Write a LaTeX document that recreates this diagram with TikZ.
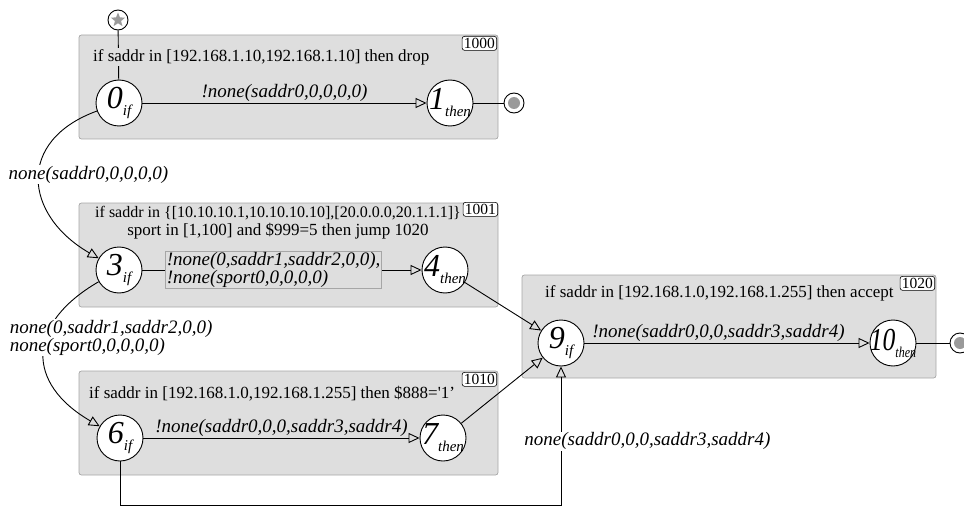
\documentclass[tikz,border=0pt]{standalone}
\usepackage{fontspec}
\setmainfont{Liberation Serif}
\usetikzlibrary{arrows.meta,shapes.geometric,backgrounds}

\newcommand{\stlabel}[2]{\makebox[32pt][c]{{\fontsize{32}{32}\selectfont\itshape #1}\raisebox{-7pt}{\fontsize{15}{15}\selectfont\itshape #2}}}

\begin{document}
\begin{tikzpicture}[x=1pt, y=1pt,
  state/.style={circle, draw, line width=0.9pt, fill=white, minimum size=46pt, inner sep=0pt},
  endstate/.style={circle, draw, line width=0.9pt, fill=white, minimum size=20pt, inner sep=0pt,
    path picture={\fill[dotgray] (path picture bounding box.center) circle (6pt);}},
  flow/.style={line width=0.9pt, -{Triangle[open, length=11pt, width=10pt]}},
  link/.style={line width=0.9pt},
  rulebox/.style={fill=boxgray, draw=boxline, line width=0.7pt, rounded corners=2.5pt},
  ruletitle/.style={fill=boxgray, inner sep=1pt, font=\fontsize{17}{18}\selectfont},
  ruleid/.style={draw, fill=white, rounded corners=2.5pt, inner sep=1.8pt, line width=0.6pt,
    anchor=north east, font=\fontsize{15.5}{15.5}\selectfont},
  cond/.style={inner sep=1pt, font=\fontsize{19}{17}\selectfont\itshape}]
\definecolor{boxgray}{HTML}{DEDEDE}
\definecolor{boxline}{HTML}{A6A6A6}
\definecolor{dotgray}{HTML}{9A9A9A}
\useasboundingbox (0,0) rectangle (964,-508);

% states
\node[state] (n0) at (119,-103) {\stlabel{0}{if}};
\node[state] (n1) at (450,-103) {\stlabel{1}{then}};
\node[state] (n3) at (119,-270) {\stlabel{3}{if}};
\node[state] (n4) at (445,-270) {\stlabel{4}{then}};
\node[state] (n6) at (120,-438) {\stlabel{6}{if}};
\node[state] (n7) at (443,-438) {\stlabel{7}{then}};
\node[state] (n9) at (561,-343) {\stlabel{9}{if}};
\node[state] (n10) at (893,-343) {\scalebox{0.8}[1]{\stlabel{10}{then}}};
\node[circle, draw, line width=0.9pt, fill=white, minimum size=20pt, inner sep=0pt] (start) at (118,-20) {};
\node[star, star points=5, star point ratio=2.3, fill=dotgray, minimum size=15pt, inner sep=0pt] (startstar) at (start) {};
\node[endstate] (end1) at (514,-103) {};
\node[endstate] (end10) at (960,-343) {};

% rules
\begin{scope}[on background layer]
\draw[rulebox] (79,-35) rectangle (498,-139);
\draw[rulebox] (79,-203) rectangle (498,-307);
\draw[rulebox] (79,-371) rectangle (498,-475);
\draw[rulebox] (522,-275) rectangle (936,-378);
\end{scope}

% transitions
\draw[link] (start) -- (n0);
\draw[flow] (n0) -- node[cond, above] (c01) {!none(saddr0,0,0,0,0)} (n1);
\draw[link] (n1) -- (end1);
\draw[flow] (n0) to[out=200, in=150, looseness=1.5]
  node[cond, pos=0.47, anchor=west, xshift=-32pt, fill=white] (c03) {none(saddr0,0,0,0,0)} (n3);
\draw[flow] (n3) -- node[cond, pos=0.47, draw=boxline, line width=0.6pt, fill=boxgray, align=left] (c34)
  {!none(0,saddr1,saddr2,0,0),\\!none(sport0,0,0,0,0)} (n4);
\draw[flow] (n3) to[out=210, in=150, looseness=1.5]
  node[cond, pos=0.42, anchor=west, xshift=-37pt, yshift=4pt, fill=white, align=left] (c36)
  {none(0,saddr1,saddr2,0,0)\\none(sport0,0,0,0,0)} (n6);
\draw[flow] (n6) -- node[cond, above] (c67) {!none(saddr0,0,0,saddr3,saddr4)} (n7);
\draw[flow] (n4) -- (n9);
\draw[flow] (n7) -- (n9);
\coordinate (low) at (300,-505);
\draw[flow] (n6) -- (n6 |- low) -| node[cond, pos=0.73, anchor=west, xshift=-38pt, fill=white] (c69)
  {none(saddr0,0,0,saddr3,saddr4)} (n9);
\draw[flow] (n9) -- node[cond, above, pos=0.47] (c910) {!none(saddr0,0,0,saddr3,saddr4)} (n10);
\draw[link] (n10) -- (end10);

% rule texts
\node[ruletitle, anchor=west] (t1000) at (92,-57) {if saddr in [192.168.1.10,192.168.1.10] then drop};
\node[ruletitle, align=center] (t1001) at (278,-223)
  {{\fontsize{16}{18}\selectfont if saddr in \{[10.10.10.1,10.10.10.10],[20.0.0.0,20.1.1.1]\}}\\sport in [1,100] and \$999=5 then jump 1020};
\node[ruletitle, anchor=west] (t1010) at (88,-394) {if saddr in [192.168.1.0,192.168.1.255] then \$888=\textquotesingle 1'};
\node[ruletitle, anchor=west] (t1020) at (544,-293) {if saddr in [192.168.1.0,192.168.1.255] then accept};
\node[ruleid] (id1000) at (497,-36) {1000};
\node[ruleid] (id1001) at (498,-202) {1001};
\node[ruleid] (id1010) at (497,-372) {1010};
\node[ruleid] (id1020) at (935,-276) {1020};
\end{tikzpicture}
\end{document}
